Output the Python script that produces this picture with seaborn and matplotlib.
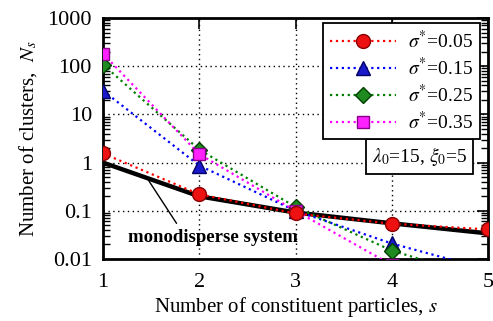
import numpy as np
import pandas as pd
import matplotlib
matplotlib.use("Agg")
import matplotlib.pyplot as plt
import seaborn as sns
from matplotlib.ticker import LogLocator, FixedLocator, NullFormatter

# cluster-size distributions
s_vals = [1, 2, 3, 4, 5]
ns_sigma005 = [1.55, 0.22, 0.088, 0.054, 0.041]
ns_sigma015 = [31.0, 0.87, 0.10, 0.021, 0.006]
ns_sigma025 = [108.0, 1.86, 0.12, 0.015, 0.0037]
ns_sigma035 = [182.0, 1.5, 0.10, 0.0075, 0.002]
ns_mono = [1.0, 0.20, 0.092, 0.055, 0.034]

series_labels = [r"$\sigma^{*}$=0.05", r"$\sigma^{*}$=0.15",
                 r"$\sigma^{*}$=0.25", r"$\sigma^{*}$=0.35"]
x_ticks = [1, 2, 3, 4, 5]
y_ticks = [0.01, 0.1, 1, 10, 100, 1000]
y_tick_labels = ["0.01", "0.1", "1", "10", "100", "1000"]

sns.set_theme(style="white")
plt.rcParams["font.family"] = ["Liberation Serif", "DejaVu Serif"]
plt.rcParams["mathtext.fontset"] = "stix"
for key in ["text.color", "axes.labelcolor", "xtick.color", "ytick.color"]:
    plt.rcParams[key] = "black"

fig = plt.figure(figsize=(4.93, 3.21), dpi=100)
ax = fig.add_axes([103 / 493, 1 - 259 / 321, 385 / 493, 241 / 321])

styles = [
    dict(color="#ff0000", marker="o", mfc="#ee1111", mec="#880000", ms=10),
    dict(color="#0000ff", marker="^", mfc="#1a1acc", mec="#000066", ms=10),
    dict(color="#008000", marker="D", mfc="#1f8a1f", mec="#004000", ms=8),
    dict(color="#ff00ff", marker="s", mfc="#ff22ff", mec="#880088", ms=8.5),
]
series = [ns_sigma005, ns_sigma015, ns_sigma025, ns_sigma035]

# monodisperse reference curve
sns.lineplot(x=s_vals, y=ns_mono, ax=ax, color="black", linewidth=3.2,
             zorder=3, legend=False)

handles = []
for i, (vals, st, lab) in enumerate(zip(series, styles, series_labels)):
    sns.lineplot(x=s_vals, y=vals, ax=ax, color=st["color"], linestyle=":",
                 linewidth=1.6, marker=st["marker"], markersize=st["ms"],
                 markerfacecolor=st["mfc"], markeredgecolor=st["mec"],
                 markeredgewidth=1.0, zorder=5 if i == 0 else 4, legend=False)
    h, = ax.plot([], [], color=st["color"], linestyle=":", linewidth=1.6,
                 marker=st["marker"], markersize=st["ms"],
                 markerfacecolor=st["mfc"], markeredgecolor=st["mec"],
                 markeredgewidth=1.0)
    handles.append(h)

ax.set_yscale("log")
ax.set_xlim(1, 5)
ax.set_ylim(0.01, 1000)
ax.xaxis.set_major_locator(FixedLocator(x_ticks))
ax.set_xticklabels([str(v) for v in x_ticks])
ax.yaxis.set_major_locator(FixedLocator(y_ticks))
ax.set_yticklabels(y_tick_labels)
ax.yaxis.set_minor_locator(LogLocator(base=10, subs=np.arange(2, 10), numticks=20))
ax.yaxis.set_minor_formatter(NullFormatter())

ax.grid(True, which="major", color="black", linestyle=(0, (1, 2.5)), linewidth=1.0)
ax.tick_params(axis="both", which="major", direction="in", length=8, width=1.2,
               top=True, right=True, labelsize=16, pad=8, colors="black")
ax.tick_params(axis="y", which="minor", direction="in", length=5, width=1.0,
               left=True, right=True)
ax.tick_params(axis="x", which="major", pad=10)
for sp in ax.spines.values():
    sp.set_linewidth(2)
    sp.set_color("black")

ax.set_xlabel("Number of constituent particles, $s$", fontsize=15, labelpad=2)
ax.set_ylabel(r"Number of clusters,  $N_s$", fontsize=15, labelpad=6)

leg = ax.legend(handles=handles, labels=series_labels, loc="upper right",
                bbox_to_anchor=(0.978, 0.98), borderaxespad=0, fontsize=14,
                numpoints=1, handlelength=3.4, handletextpad=0.6,
                labelspacing=0.25, borderpad=0.35, fancybox=False,
                framealpha=1, edgecolor="black")
leg.get_frame().set_linewidth(1.3)

ax.text(0.823, 0.425, r"$\lambda_0$=15, $\xi_0$=5", transform=ax.transAxes,
        fontsize=14, ha="center", va="center",
        bbox=dict(boxstyle="square,pad=0.3", fc="white", ec="black", lw=1.3))

ax.annotate("monodisperse system", xy=(1.46, 0.47), xytext=(1.255, 0.028),
            fontsize=13.5, fontweight="bold", ha="left", va="center",
            arrowprops=dict(arrowstyle="-", color="black", lw=1.0,
                            shrinkA=2, shrinkB=0, relpos=(0.31, 1.0)))

fig.savefig("out.png", dpi=100)
